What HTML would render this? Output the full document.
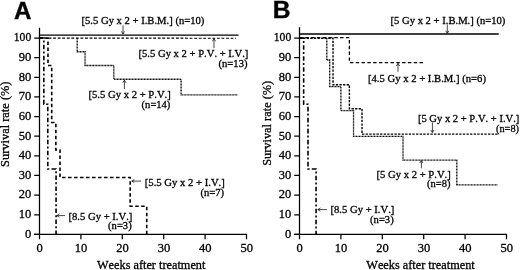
<!DOCTYPE html>
<html><head><meta charset="utf-8"><title>Survival rate</title>
<style>
html,body{margin:0;padding:0;background:#fff;}
body{width:520px;height:270px;overflow:hidden;}
svg{display:block;}
text{font-family:"Liberation Serif","Times New Roman",serif;fill:#000;stroke:#000;stroke-width:0.22px;font-kerning:none;}
.num{font-size:12.5px;stroke-width:0.3px;}
.lab{font-size:10.7px;stroke-width:0.3px;}
.axl{font-size:12.5px;stroke-width:0.3px;}
.pan{font-family:"Liberation Sans",Arial,sans-serif;font-weight:bold;font-size:24px;stroke-width:0.4px;}
.ax{stroke:#000;stroke-width:1.25;fill:none;}
.ln{stroke:#000;fill:none;stroke-width:1.6;}
.ar{stroke:#1a1a1a;stroke-width:0.8;fill:none;}
</style></head><body>
<svg width="520" height="270" viewBox="0 0 520 270">
<rect width="520" height="270" fill="#fff"/>
<text x="14.1" y="18.8" class="pan" style="font-size:24.6px" textLength="17.4" lengthAdjust="spacingAndGlyphs">A</text>
<path d="M39.5 27.7 V234.3 M34.2 234.3 H246.9" class="ax"/>
<path d="M34.2 234.4 H39.5 M34.2 214.76 H39.5 M34.2 195.12 H39.5 M34.2 175.48 H39.5 M34.2 155.84 H39.5 M34.2 136.2 H39.5 M34.2 116.56 H39.5 M34.2 96.92 H39.5 M34.2 77.28 H39.5 M34.2 57.64 H39.5 M34.2 38.0 H39.5 M39.5 234.3 V239.2 M80.9 234.3 V239.2 M122.3 234.3 V239.2 M163.7 234.3 V239.2 M205.1 234.3 V239.2 M246.5 234.3 V239.2 " class="ax"/>
<text x="31.2" y="237.70" class="num" text-anchor="end">0</text>
<text x="31.2" y="218.06" class="num" text-anchor="end">10</text>
<text x="31.2" y="198.42" class="num" text-anchor="end">20</text>
<text x="31.2" y="178.78" class="num" text-anchor="end">30</text>
<text x="31.2" y="159.14" class="num" text-anchor="end">40</text>
<text x="31.2" y="139.50" class="num" text-anchor="end">50</text>
<text x="31.2" y="119.86" class="num" text-anchor="end">60</text>
<text x="31.2" y="100.22" class="num" text-anchor="end">70</text>
<text x="31.2" y="80.58" class="num" text-anchor="end">80</text>
<text x="31.2" y="60.94" class="num" text-anchor="end">90</text>
<text x="31.2" y="41.30" class="num" text-anchor="end" textLength="17.4" lengthAdjust="spacingAndGlyphs">100</text>
<text x="39.7" y="251.9" class="num" text-anchor="middle">0</text>
<text x="81.10000000000001" y="251.9" class="num" text-anchor="middle">10</text>
<text x="122.5" y="251.9" class="num" text-anchor="middle">20</text>
<text x="163.89999999999998" y="251.9" class="num" text-anchor="middle">30</text>
<text x="205.29999999999998" y="251.9" class="num" text-anchor="middle">40</text>
<text x="246.7" y="251.9" class="num" text-anchor="middle">50</text>
<text transform="translate(9.4 166.9) rotate(-90)" class="axl" textLength="85.4" lengthAdjust="spacingAndGlyphs">Survival rate (%)</text>
<text x="97" y="268.6" class="axl" textLength="108.4" lengthAdjust="spacingAndGlyphs">Weeks after treatment</text>
<path d="M39.5 35.05 L238.5 35.2" class="ln" style="stroke-width:1.3"/>
<path d="M39.5 38.05 L236 38.25" class="ln" style="stroke-width:1.15" stroke-dasharray="2.8 1.75"/>
<path d="M77.17 38.00 L77.17 51.75 L85.04 51.75 L85.04 65.50 L113.81 65.50 L113.81 79.24 L181.09 79.24 L181.09 94.96 L237.81 94.96" class="ln" style="stroke-width:1.3" stroke-dasharray="1 0.5"/>
<path d="M39.50 38.00 L47.99 38.00 L47.99 65.50 L51.71 65.50 L51.71 122.45 L55.85 122.45 L55.85 149.95 L59.99 149.95 L59.99 177.44 L130.17 177.44 L130.17 206.31 L146.73 206.31 L146.73 234.40" class="ln" stroke-dasharray="3.5 2.5"/>
<path d="M39.50 38.00 L43.85 38.00 L43.85 104.19 L47.78 104.19 L47.78 169.00 L56.06 169.00 L56.06 234.40" class="ln" stroke-dasharray="4.6 2.2 2 2.2"/>
<text x="81.5" y="23.8" class="lab" text-anchor="start" textLength="122.9" lengthAdjust="spacingAndGlyphs">[5.5 Gy x 2 + I.B.M.] (n=10)</text>
<path d="M123.0 34.0 V25.4" class="ar"/><path d="M121.4 31.4 L123.0 34.0 L124.6 31.4" class="ar"/>
<text x="138.5" y="57.3" class="lab" text-anchor="start" textLength="109.9" lengthAdjust="spacingAndGlyphs">[5.5 Gy x 2 + P.V. + I.V.]</text>
<text x="247.5" y="67.3" class="lab" text-anchor="end" textLength="29.0" lengthAdjust="spacingAndGlyphs">(n=13)</text>
<path d="M214.0 38.7 V48.2" class="ar"/><path d="M212.4 41.300000000000004 L214.0 38.7 L215.6 41.300000000000004" class="ar"/>
<text x="88.5" y="97.9" class="lab" text-anchor="start" textLength="82.3" lengthAdjust="spacingAndGlyphs">[5.5 Gy x 2 + P.V.]</text>
<text x="170.4" y="107.5" class="lab" text-anchor="end" textLength="28.8" lengthAdjust="spacingAndGlyphs">(n=14)</text>
<path d="M124.4 80.2 V89.0" class="ar"/><path d="M122.80000000000001 82.8 L124.4 80.2 L126.0 82.8" class="ar"/>
<text x="144.8" y="186.3" class="lab" text-anchor="start" textLength="80.0" lengthAdjust="spacingAndGlyphs">[5.5 Gy x 2 + I.V.]</text>
<text x="224.1" y="195.8" class="lab" text-anchor="end" textLength="23.7" lengthAdjust="spacingAndGlyphs">(n=7)</text>
<path d="M131.8 181.1 H141.0" class="ar"/><path d="M134.4 179.5 L131.8 181.1 L134.4 182.7" class="ar"/>
<text x="68.5" y="220.0" class="lab" text-anchor="start" textLength="63.9" lengthAdjust="spacingAndGlyphs">[8.5 Gy + I.V.]</text>
<text x="131.7" y="229.4" class="lab" text-anchor="end" textLength="23.6" lengthAdjust="spacingAndGlyphs">(n=3)</text>
<path d="M56.8 215.6 H65.0" class="ar"/><path d="M59.4 214.0 L56.8 215.6 L59.4 217.2" class="ar"/>
<text x="272.8" y="18.35" class="pan" style="font-size:24.6px">B</text>
<path d="M299.5 27.3 V234.3 M294.2 234.3 H506.9" class="ax"/>
<path d="M294.2 234.4 H299.5 M294.2 214.76 H299.5 M294.2 195.12 H299.5 M294.2 175.48 H299.5 M294.2 155.84 H299.5 M294.2 136.2 H299.5 M294.2 116.56 H299.5 M294.2 96.92 H299.5 M294.2 77.28 H299.5 M294.2 57.64 H299.5 M294.2 38.0 H299.5 M299.5 234.3 V239.2 M340.9 234.3 V239.2 M382.3 234.3 V239.2 M423.7 234.3 V239.2 M465.1 234.3 V239.2 M506.5 234.3 V239.2 " class="ax"/>
<text x="291.2" y="237.70" class="num" text-anchor="end">0</text>
<text x="291.2" y="218.06" class="num" text-anchor="end">10</text>
<text x="291.2" y="198.42" class="num" text-anchor="end">20</text>
<text x="291.2" y="178.78" class="num" text-anchor="end">30</text>
<text x="291.2" y="159.14" class="num" text-anchor="end">40</text>
<text x="291.2" y="139.50" class="num" text-anchor="end">50</text>
<text x="291.2" y="119.86" class="num" text-anchor="end">60</text>
<text x="291.2" y="100.22" class="num" text-anchor="end">70</text>
<text x="291.2" y="80.58" class="num" text-anchor="end">80</text>
<text x="291.2" y="60.94" class="num" text-anchor="end">90</text>
<text x="291.2" y="41.30" class="num" text-anchor="end" textLength="17.4" lengthAdjust="spacingAndGlyphs">100</text>
<text x="299.7" y="251.9" class="num" text-anchor="middle">0</text>
<text x="341.09999999999997" y="251.9" class="num" text-anchor="middle">10</text>
<text x="382.5" y="251.9" class="num" text-anchor="middle">20</text>
<text x="423.9" y="251.9" class="num" text-anchor="middle">30</text>
<text x="465.3" y="251.9" class="num" text-anchor="middle">40</text>
<text x="506.7" y="251.9" class="num" text-anchor="middle">50</text>
<text transform="translate(271.3 165.8) rotate(-90)" class="axl" textLength="85" lengthAdjust="spacingAndGlyphs">Survival rate (%)</text>
<text x="366.3" y="268.6" class="axl" textLength="108.4" lengthAdjust="spacingAndGlyphs">Weeks after treatment</text>
<path d="M299.5 34.0 H498.7" class="ln" style="stroke-width:1.3"/>
<path d="M299.50 37.70 L349.39 37.70 L349.39 62.64 L423.49 62.64" class="ln" style="stroke-width:1.3" stroke-dasharray="3.4 2.4"/>
<path d="M326.82 38.00 L326.82 60.00 L329.72 60.00 L329.72 86.71 L340.90 86.71 L340.90 110.67 L353.53 110.67 L353.53 136.30 L403.00 136.30 L403.00 160.16 L456.82 160.16 L456.82 184.91 L497.81 184.91" class="ln" style="stroke-width:1.3" stroke-dasharray="1 0.5"/>
<path d="M299.50 38.29 L333.03 38.29 L333.03 84.74 L349.39 84.74 L349.39 108.70 L362.01 108.70 L362.01 134.14 L498.22 134.14" class="ln" style="stroke-width:1.4" stroke-dasharray="2.3 1.3"/>
<path d="M299.50 38.29 L303.64 38.29 L303.64 104.19 L307.99 104.19 L307.99 169.00 L316.06 169.00 L316.06 234.40" class="ln" stroke-dasharray="4.6 2.2 2 2.2"/>
<text x="390.5" y="23.5" class="lab" text-anchor="start" textLength="114.9" lengthAdjust="spacingAndGlyphs">[5 Gy x 2 + I.B.M.] (n=10)</text>
<path d="M447.3 33.3 V24.4" class="ar"/><path d="M445.7 30.699999999999996 L447.3 33.3 L448.90000000000003 30.699999999999996" class="ar"/>
<text x="367.9" y="81.7" class="lab" text-anchor="start" textLength="118.1" lengthAdjust="spacingAndGlyphs">[4.5 Gy x 2 + I.B.M.] (n=6)</text>
<path d="M398.0 63.4 V71.8" class="ar"/><path d="M396.4 66.0 L398.0 63.4 L399.6 66.0" class="ar"/>
<text x="417.9" y="122.0" class="lab" text-anchor="start" textLength="101.5" lengthAdjust="spacingAndGlyphs">[5 Gy x 2 + P.V. + I.V.]</text>
<text x="519.0" y="131.5" class="lab" text-anchor="end" textLength="23.0" lengthAdjust="spacingAndGlyphs">(n=8)</text>
<path d="M432.4 132.6 V122.6" class="ar"/><path d="M430.79999999999995 130.0 L432.4 132.6 L434.0 130.0" class="ar"/>
<text x="376.5" y="178.0" class="lab" text-anchor="start" textLength="74.3" lengthAdjust="spacingAndGlyphs">[5 Gy x 2 + P.V.]</text>
<text x="450.4" y="187.4" class="lab" text-anchor="end" textLength="23.4" lengthAdjust="spacingAndGlyphs">(n=8)</text>
<path d="M421.4 160.4 V168.4" class="ar"/><path d="M419.79999999999995 163.0 L421.4 160.4 L423.0 163.0" class="ar"/>
<text x="330.5" y="213.4" class="lab" text-anchor="start" textLength="63.9" lengthAdjust="spacingAndGlyphs">[8.5 Gy + I.V.]</text>
<text x="393.7" y="222.5" class="lab" text-anchor="end" textLength="23.6" lengthAdjust="spacingAndGlyphs">(n=3)</text>
<path d="M317.8 209.6 H327.0" class="ar"/><path d="M320.40000000000003 208.0 L317.8 209.6 L320.40000000000003 211.2" class="ar"/>
</svg></body></html>
